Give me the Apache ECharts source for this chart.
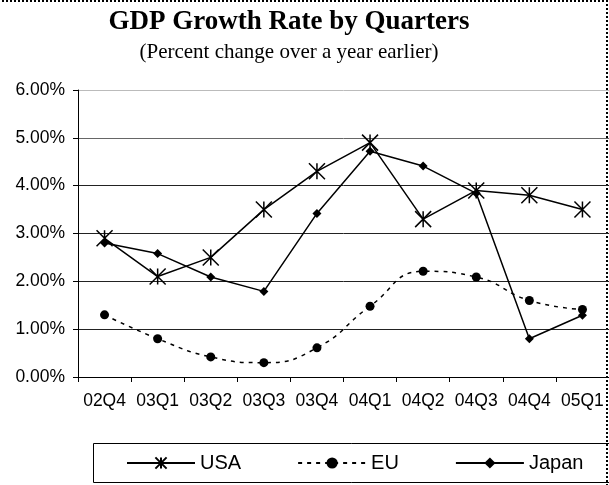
<!DOCTYPE html>
<html><head><meta charset="utf-8">
<script src="https://cdn.jsdelivr.net/npm/echarts@6/dist/echarts.min.js"></script>
<style>html,body{margin:0;padding:0;background:#fff}#c{width:609px;height:485px}</style>
</head><body><div id="c"></div>
<script>
const categories = ['02Q4','03Q1','03Q2','03Q3','03Q4','04Q1','04Q2','04Q3','04Q4','05Q1'];
const usa   = [2.9, 2.1, 2.5, 3.5, 4.3, 4.9, 3.3, 3.9, 3.8, 3.5];
const eu    = [1.3, 0.8, 0.42, 0.3, 0.61, 1.48, 2.21, 2.09, 1.6, 1.41];
const japan = [2.8, 2.58, 2.09, 1.79, 3.42, 4.72, 4.41, 3.84, 0.8, 1.29];
const yTicks = [0, 1, 2, 3, 4, 5, 6];

const chart = echarts.init(document.getElementById('c'), null, {renderer: 'canvas'});
const starPath = 'path://M0,0L10,10M10,0L0,10M5,0L5,10';
chart.setOption({
  animation: false,
  backgroundColor: '#fff',
  title: [
    {text: 'GDP Growth Rate by Quarters', left: 284, top: 4, textAlign: 'center',
     textStyle: {fontFamily: 'Liberation Serif', fontWeight: 'bold', fontSize: 27, color: '#000'}},
    {text: '(Percent change over a year earlier)', left: 284, top: 37, textAlign: 'center',
     textStyle: {fontFamily: 'Liberation Serif', fontWeight: 'normal', fontSize: 21, color: '#000'}}
  ],
  grid: {left: 78, top: 90, bottom: 108, right: -7, containLabel: false},
  xAxis: {
    type: 'category', data: categories, boundaryGap: true,
    axisLine: {lineStyle: {color: '#000', width: 1}},
    axisTick: {show: true, length: 5, lineStyle: {color: '#000'}},
    axisLabel: {margin: 15, color: '#000', fontFamily: 'Liberation Sans', fontSize: 17.5, interval: 0}
  },
  yAxis: {
    type: 'value', min: yTicks[0], max: yTicks[yTicks.length - 1], interval: 1,
    axisLine: {show: true, lineStyle: {color: '#000', width: 1}},
    axisTick: {show: true, length: 5, lineStyle: {color: '#000'}},
    splitLine: {show: true, lineStyle: {color: ['#222', '#222', '#222', '#222', '#222', '#666', '#bbb'], width: 1}},
    axisLabel: {margin: 13, color: '#000', fontFamily: 'Liberation Sans', fontSize: 17.5,
      formatter: v => v.toFixed(2) + '%'}
  },
  legend: {
    left: 121, top: 448, itemWidth: 68, itemHeight: 14, itemGap: 56,
    textStyle: {fontFamily: 'Liberation Sans', fontSize: 20, color: '#000'},
    data: ['USA', 'EU', 'Japan']
  },
  graphic: [
    {type: 'rect', shape: {x: 93.5, y: 443.5, width: 540, height: 39}, style: {fill: 'none', stroke: '#000', lineWidth: 1}, z: 0},
    {type: 'rect', shape: {x: -10, y: 1, width: 617, height: 520}, style: {fill: 'none', stroke: '#000', lineWidth: 2, lineDash: [2, 2]}, z: 0}
  ],
  series: [
    {name: 'USA', type: 'line', data: usa, symbol: starPath, symbolSize: 16,
     lineStyle: {color: '#000', width: 1.5},
     itemStyle: {color: '#000', borderColor: '#000', borderWidth: 1.5}},
    {name: 'EU', type: 'line', data: eu, smooth: 0.5, symbol: 'circle', symbolSize: 9,
     lineStyle: {color: '#000', width: 1.5, type: [4, 5]},
     itemStyle: {color: '#000'}},
    {name: 'Japan', type: 'line', data: japan, symbol: 'diamond', symbolSize: 9,
     lineStyle: {color: '#000', width: 1.5},
     itemStyle: {color: '#000'}}
  ]
});
</script></body></html>
